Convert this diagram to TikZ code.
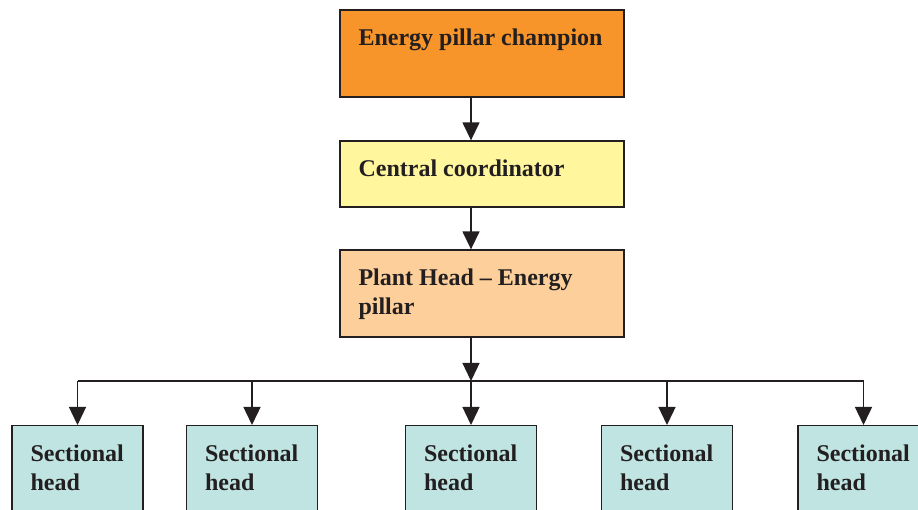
\documentclass[tikz,border=0pt]{standalone}
\usepackage{fontspec}
\setmainfont{Liberation Serif}
\usepackage{xcolor}
\usetikzlibrary{arrows.meta}

\definecolor{inkgray}{HTML}{231F20}
\definecolor{champorange}{HTML}{F7942A}
\definecolor{coordyellow}{HTML}{FFF69E}
\definecolor{plantpeach}{HTML}{FDD09B}
\definecolor{sectteal}{HTML}{BFE4E1}

\tikzset{
  box/.style={draw=inkgray, line width=1.3pt, rectangle, inner sep=0pt},
  bigbox/.style={box, minimum width=284pt},
  sectbox/.style={box, fill=sectteal, minimum width=131pt, minimum height=130pt},
  boxtext/.style={anchor=north west, inner sep=0pt, xshift=19pt, yshift=-19.5pt,
    align=left, text=inkgray, font=\bfseries\fontsize{24}{29}\selectfont},
  arr/.style={draw=inkgray, line width=1.4pt, -{Triangle[width=17pt,length=18pt]}},
  wire/.style={draw=inkgray, line width=1.4pt}
}

\begin{document}
\begin{tikzpicture}[x=1pt,y=1pt]
\useasboundingbox (0,0) rectangle (918,510);
\clip (0,0) rectangle (918,510);

% the three boxes of the spine
\node[bigbox, fill=champorange, minimum height=87pt,
  label={[boxtext]north west:Energy pillar champion}] (champ) at (482,456.5) {};
\node[bigbox, fill=coordyellow, minimum height=66pt,
  label={[boxtext]north west:Central coordinator}] (coord) at (482,336) {};
\node[bigbox, fill=plantpeach, minimum height=87pt,
  label={[boxtext]north west:Plant Head -- Energy\\pillar}] (plant) at (482,216.5) {};

% sectional heads
\foreach \i/\x in {1/77.5, 2/252, 3/471, 4/667, 5/863.5}
  \node[sectbox, anchor=north, label={[boxtext]north west:Sectional\\head}] (sect\i) at (\x,85) {};

\coordinate (bus) at (471,129);

\draw[arr] (champ.south -| bus) -- (coord.north -| bus);
\draw[arr] (coord.south -| bus) -- (plant.north -| bus);
\draw[arr] (plant.south -| bus) -- (bus);
\draw[wire] (sect1.north |- bus) -- (sect5.north |- bus);
\foreach \i in {1,...,5}
  \draw[arr] (sect\i.north |- bus) -- (sect\i.north);
\end{tikzpicture}
\end{document}
